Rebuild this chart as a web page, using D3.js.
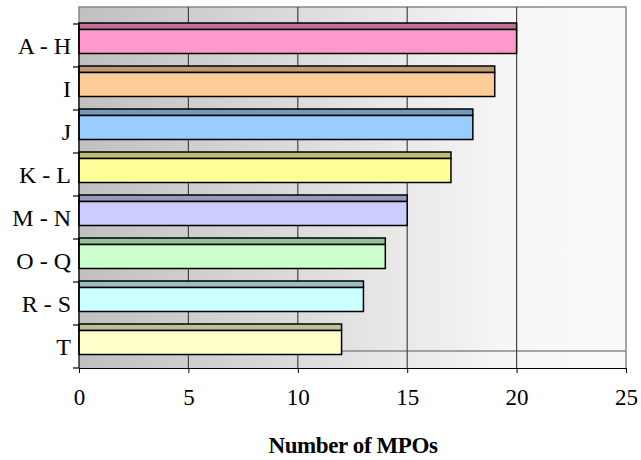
<!DOCTYPE html>
<html>
<head>
<meta charset="utf-8">
<script src="https://cdn.jsdelivr.net/npm/d3@7"></script>
<style>
  body { margin: 0; background: #fff; }
  text { font-family: "Liberation Serif", "DejaVu Serif", serif; }
</style>
</head>
<body>
<div class="chart"></div>
<script>
var categories = ['A - H', 'I', 'J', 'K - L', 'M - N', 'O - Q', 'R - S', 'T'];
var values = [20, 19, 18, 17, 15, 14, 13, 12];
var frontColors = ['#FF99CC', '#FFCC99', '#99CCFF', '#FFFF99', '#CCCCFF', '#CCFFCC', '#CCFFFF', '#FFFFCC'];
var topColors = ['#BF6F99', '#BF9973', '#7399BF', '#BFBF73', '#9999BF', '#99BF99', '#99BFBF', '#BFBF99'];
var xTicks = [0, 5, 10, 15, 20, 25];
var xTitle = 'Number of MPOs';

var width = 641,
  height = 460;

var depth = 17; // 3d wall offset (straight up)
var serif = '"Liberation Serif", "DejaVu Serif", serif';

var svg = d3.select('.chart')
  .append('svg')
  .attr('width', width)
  .attr('height', height)
  .style('display', 'block');

var xScale = d3.scaleLinear()
  .domain([0, 25])
  .range([79, 626]);

var yScale = d3.scaleBand()
  .domain(categories)
  .range([24, 368]);

var x0 = xScale(0), x1 = xScale(25);
var yTop = yScale.range()[0], yBot = yScale.range()[1];

//WALL GRADIENT
var grad = svg.append('defs').append('linearGradient')
  .attr('id', 'wall')
  .attr('x1', '0%').attr('x2', '100%')
  .attr('y1', '0%').attr('y2', '0%');
grad.append('stop').attr('offset', '0%').attr('stop-color', '#C0C0C0');
grad.append('stop').attr('offset', '80%').attr('stop-color', '#F7F7F7');
grad.append('stop').attr('offset', '100%').attr('stop-color', '#FAFAFA');

// back wall + floor
svg.append('rect')
  .attr('x', x0).attr('y', yTop - depth)
  .attr('width', x1 - x0).attr('height', yBot - yTop + depth)
  .attr('fill', 'url(#wall)');

// wall border (grey)
svg.append('path')
  .attr('d', 'M' + x0 + ',' + (yBot - depth) + 'V' + (yTop - depth) + 'H' + x1 + 'V' + yBot)
  .attr('fill', 'none')
  .attr('stroke', '#888')
  .attr('stroke-width', 1.5);
svg.append('line')
  .attr('x1', x0).attr('x2', x1)
  .attr('y1', yBot - depth).attr('y2', yBot - depth)
  .attr('stroke', '#888')
  .attr('stroke-width', 1.5);

//GRIDLINES (wall + floor)
svg.selectAll('.grid')
  .data(xTicks.slice(1, -1))
  .enter()
  .append('line')
  .attr('class', 'grid')
  .attr('x1', function(d) { return xScale(d); })
  .attr('x2', function(d) { return xScale(d); })
  .attr('y1', yTop - depth)
  .attr('y2', yBot)
  .attr('stroke', '#444')
  .attr('stroke-width', 1.2);

//BARS
var bars = svg.selectAll('.bar')
  .data(categories)
  .enter()
  .append('g')
  .attr('class', 'bar');

// top face
bars.append('rect')
  .attr('x', x0)
  .attr('y', function(d) { return yScale(d) - 1; })
  .attr('width', function(d, i) { return xScale(values[i]) - x0; })
  .attr('height', 6.5)
  .attr('fill', function(d, i) { return topColors[i]; })
  .attr('stroke', '#000')
  .attr('stroke-width', 1.5);

// front face
bars.append('rect')
  .attr('x', x0)
  .attr('y', function(d) { return yScale(d) + 5.5; })
  .attr('width', function(d, i) { return xScale(values[i]) - x0; })
  .attr('height', 24)
  .attr('fill', function(d, i) { return frontColors[i]; })
  .attr('stroke', '#000')
  .attr('stroke-width', 1.5);

//AXES
var xAxis = d3.axisBottom(xScale)
  .tickValues(xTicks)
  .tickSize(5)
  .tickSizeOuter(0)
  .tickPadding(16);

var xAxisG = svg.append('g')
  .attr('class', 'xAxis')
  .attr('transform', 'translate(0,' + yBot + ')')
  .call(xAxis)
  .attr('font-family', serif)
  .attr('font-size', 23);
xAxisG.select('.domain').attr('stroke', '#000').attr('stroke-width', 1.2);
xAxisG.selectAll('.tick line').attr('stroke', '#000');
xAxisG.selectAll('.tick text').attr('fill', '#000');

// left axis: ticks on band edges, labels in band centres
var edges = categories.map(function(d) { return yScale(d); }).concat([yBot]);

svg.append('line')
  .attr('x1', x0).attr('x2', x0)
  .attr('y1', yTop).attr('y2', yBot)
  .attr('stroke', '#000')
  .attr('stroke-width', 1.2);

svg.selectAll('.ytick')
  .data(edges)
  .enter()
  .append('line')
  .attr('class', 'ytick')
  .attr('x1', x0 - 6).attr('x2', x0)
  .attr('y1', function(d) { return d; })
  .attr('y2', function(d) { return d; })
  .attr('stroke', '#000')
  .attr('stroke-width', 1.2);

svg.selectAll('.ylabel')
  .data(categories)
  .enter()
  .append('text')
  .attr('class', 'ylabel')
  .attr('x', 71)
  .attr('y', function(d) { return yScale(d) + yScale.bandwidth() / 2; })
  .attr('dy', '0.35em')
  .attr('text-anchor', 'end')
  .attr('font-family', serif)
  .attr('font-size', 24)
  .text(function(d) { return d; });

// axis title
svg.append('text')
  .attr('x', 353)
  .attr('y', 453)
  .attr('text-anchor', 'middle')
  .attr('font-family', serif)
  .attr('font-size', 23)
  .attr('font-weight', 'bold')
  .attr('letter-spacing', '-0.4')
  .text(xTitle);
</script>
</body>
</html>
